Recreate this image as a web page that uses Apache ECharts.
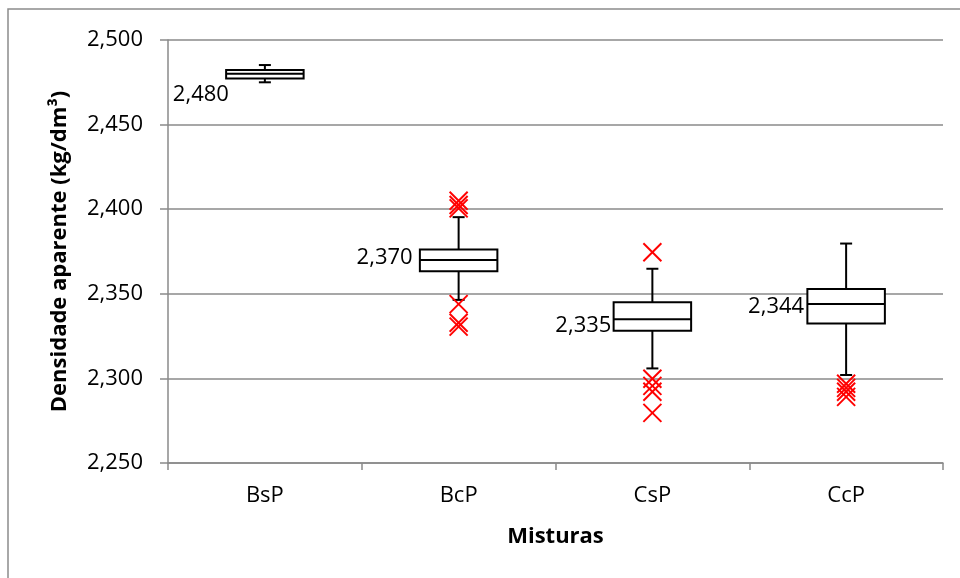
<!DOCTYPE html>
<html><head><meta charset="utf-8">
<script src="https://cdn.jsdelivr.net/npm/echarts@6/dist/echarts.min.js"></script>
<style>html,body{margin:0;padding:0;background:#fff}#c{width:960px;height:578px}</style>
</head><body><div id="c"></div>
<script>
// ---- data ----
const categories = ['BsP', 'BcP', 'CsP', 'CcP'];
const whiskerMin = [2.4750, 2.3464, 2.3059, 2.3020];
const q1         = [2.4772, 2.3633, 2.3282, 2.3325];
const median     = [2.480, 2.370, 2.335, 2.344];
const q3         = [2.4822, 2.3762, 2.3450, 2.3529];
const whiskerMax = [2.4852, 2.3953, 2.3648, 2.3797];
const outliersBsP = [];
const outliersBcP = [2.4050, 2.4025, 2.4005, 2.3439, 2.3329, 2.3306];
const outliersCsP = [2.3746, 2.2998, 2.2956, 2.2921, 2.2796];
const outliersCcP = [2.2968, 2.2944, 2.2921, 2.2891];
const yMin = 2.25, yMax = 2.5, yStep = 0.05;
const yTitle = 'Densidade aparente (kg/dm³)';
const xTitle = 'Misturas';

// ---- styling (not data) ----
const FONT = '"Open Sans", "Noto Sans", sans-serif';
const labelOffsets = [[-36, 21], [-46, -2], [-41, 7], [-42, 3]];
const fmt = v => v.toFixed(3).replace('.', ',');

const outlierGroups = [outliersBsP, outliersBcP, outliersCsP, outliersCcP];
const boxData = categories.map((c, i) => [i, whiskerMin[i], q1[i], median[i], q3[i], whiskerMax[i]]);
const outlierData = [];
outlierGroups.forEach((g, i) => g.forEach(v => outlierData.push([i, v])));
const labelData = categories.map((c, i) => [i, median[i]]);

const chart = echarts.init(document.getElementById('c'), null, {renderer: 'canvas'});
const gray = '#8a8a8a';
chart.setOption({
  animation: false,
  backgroundColor: '#fff',
  graphic: [{
    type: 'rect', shape: {x: 8, y: 9, width: 1200, height: 1200},
    style: {fill: 'none', stroke: '#8c8c8c', lineWidth: 1.5}, z: -10, silent: true
  }],
  grid: {left: 168, right: 17, top: 40, bottom: 115, containLabel: false},
  xAxis: {
    type: 'category', data: categories, boundaryGap: true,
    axisLine: {lineStyle: {color: gray, width: 1.5}},
    axisTick: {show: true, length: 7, lineStyle: {color: gray, width: 1.5}},
    axisLabel: {color: '#000', fontFamily: FONT, fontSize: 22, margin: 22},
    splitLine: {show: false},
    name: xTitle, nameLocation: 'middle', nameGap: 63,
    nameTextStyle: {color: '#000', fontFamily: FONT, fontSize: 22, fontWeight: 'bold'}
  },
  yAxis: {
    type: 'value', min: yMin, max: yMax, interval: yStep,
    axisLine: {show: true, lineStyle: {color: gray, width: 1.5}},
    axisTick: {show: true, length: 8, lineStyle: {color: gray, width: 1.5}},
    axisLabel: {color: '#000', fontFamily: FONT, fontSize: 22, margin: 25, formatter: v => fmt(v)},
    splitLine: {show: true, lineStyle: {color: gray, width: 1.5}},
    name: yTitle, nameLocation: 'middle', nameGap: 97, nameRotate: 90,
    nameTextStyle: {color: '#000', fontFamily: FONT, fontSize: 22, fontWeight: 'bold'}
  },
  series: [
    {
      type: 'custom', name: 'box', data: boxData, z: 3,
      renderItem: function (params, api) {
        const i = api.value(0);
        const pMin = api.coord([i, api.value(1)]);
        const pQ1 = api.coord([i, api.value(2)]);
        const pMed = api.coord([i, api.value(3)]);
        const pQ3 = api.coord([i, api.value(4)]);
        const pMax = api.coord([i, api.value(5)]);
        const cx = pMed[0];
        const bw = api.size([1, 0])[0] * 0.40;
        const cap = 6;
        const ls = {stroke: '#000', lineWidth: 2};
        return {
          type: 'group',
          children: [
            {type: 'line', shape: {x1: cx, y1: pQ3[1], x2: cx, y2: pMax[1]}, style: ls},
            {type: 'line', shape: {x1: cx, y1: pQ1[1], x2: cx, y2: pMin[1]}, style: ls},
            {type: 'line', shape: {x1: cx - cap, y1: pMax[1], x2: cx + cap, y2: pMax[1]}, style: ls},
            {type: 'line', shape: {x1: cx - cap, y1: pMin[1], x2: cx + cap, y2: pMin[1]}, style: ls},
            {type: 'rect', shape: {x: cx - bw / 2, y: pQ3[1], width: bw, height: pQ1[1] - pQ3[1]},
             style: {fill: '#fff', stroke: '#000', lineWidth: 2}},
            {type: 'line', shape: {x1: cx - bw / 2, y1: pMed[1], x2: cx + bw / 2, y2: pMed[1]}, style: ls}
          ]
        };
      }
    },
    {
      type: 'custom', name: 'outliers', data: outlierData, z: 4,
      renderItem: function (params, api) {
        const p = api.coord([api.value(0), api.value(1)]);
        const h = 9;
        const ls = {stroke: '#ff0000', lineWidth: 2};
        return {
          type: 'group',
          children: [
            {type: 'line', shape: {x1: p[0] - h, y1: p[1] - h, x2: p[0] + h, y2: p[1] + h}, style: ls},
            {type: 'line', shape: {x1: p[0] - h, y1: p[1] + h, x2: p[0] + h, y2: p[1] - h}, style: ls}
          ]
        };
      }
    },
    {
      type: 'custom', name: 'labels', data: labelData, z: 5,
      renderItem: function (params, api) {
        const i = api.value(0);
        const p = api.coord([i, api.value(1)]);
        const off = labelOffsets[i];
        return {
          type: 'text',
          style: {
            text: fmt(api.value(1)), x: p[0] + off[0], y: p[1] + off[1],
            align: 'right', verticalAlign: 'middle',
            fontFamily: 'Open Sans', fontSize: 22, fill: '#000'
          }
        };
      }
    }
  ]
});
</script>
</body></html>
